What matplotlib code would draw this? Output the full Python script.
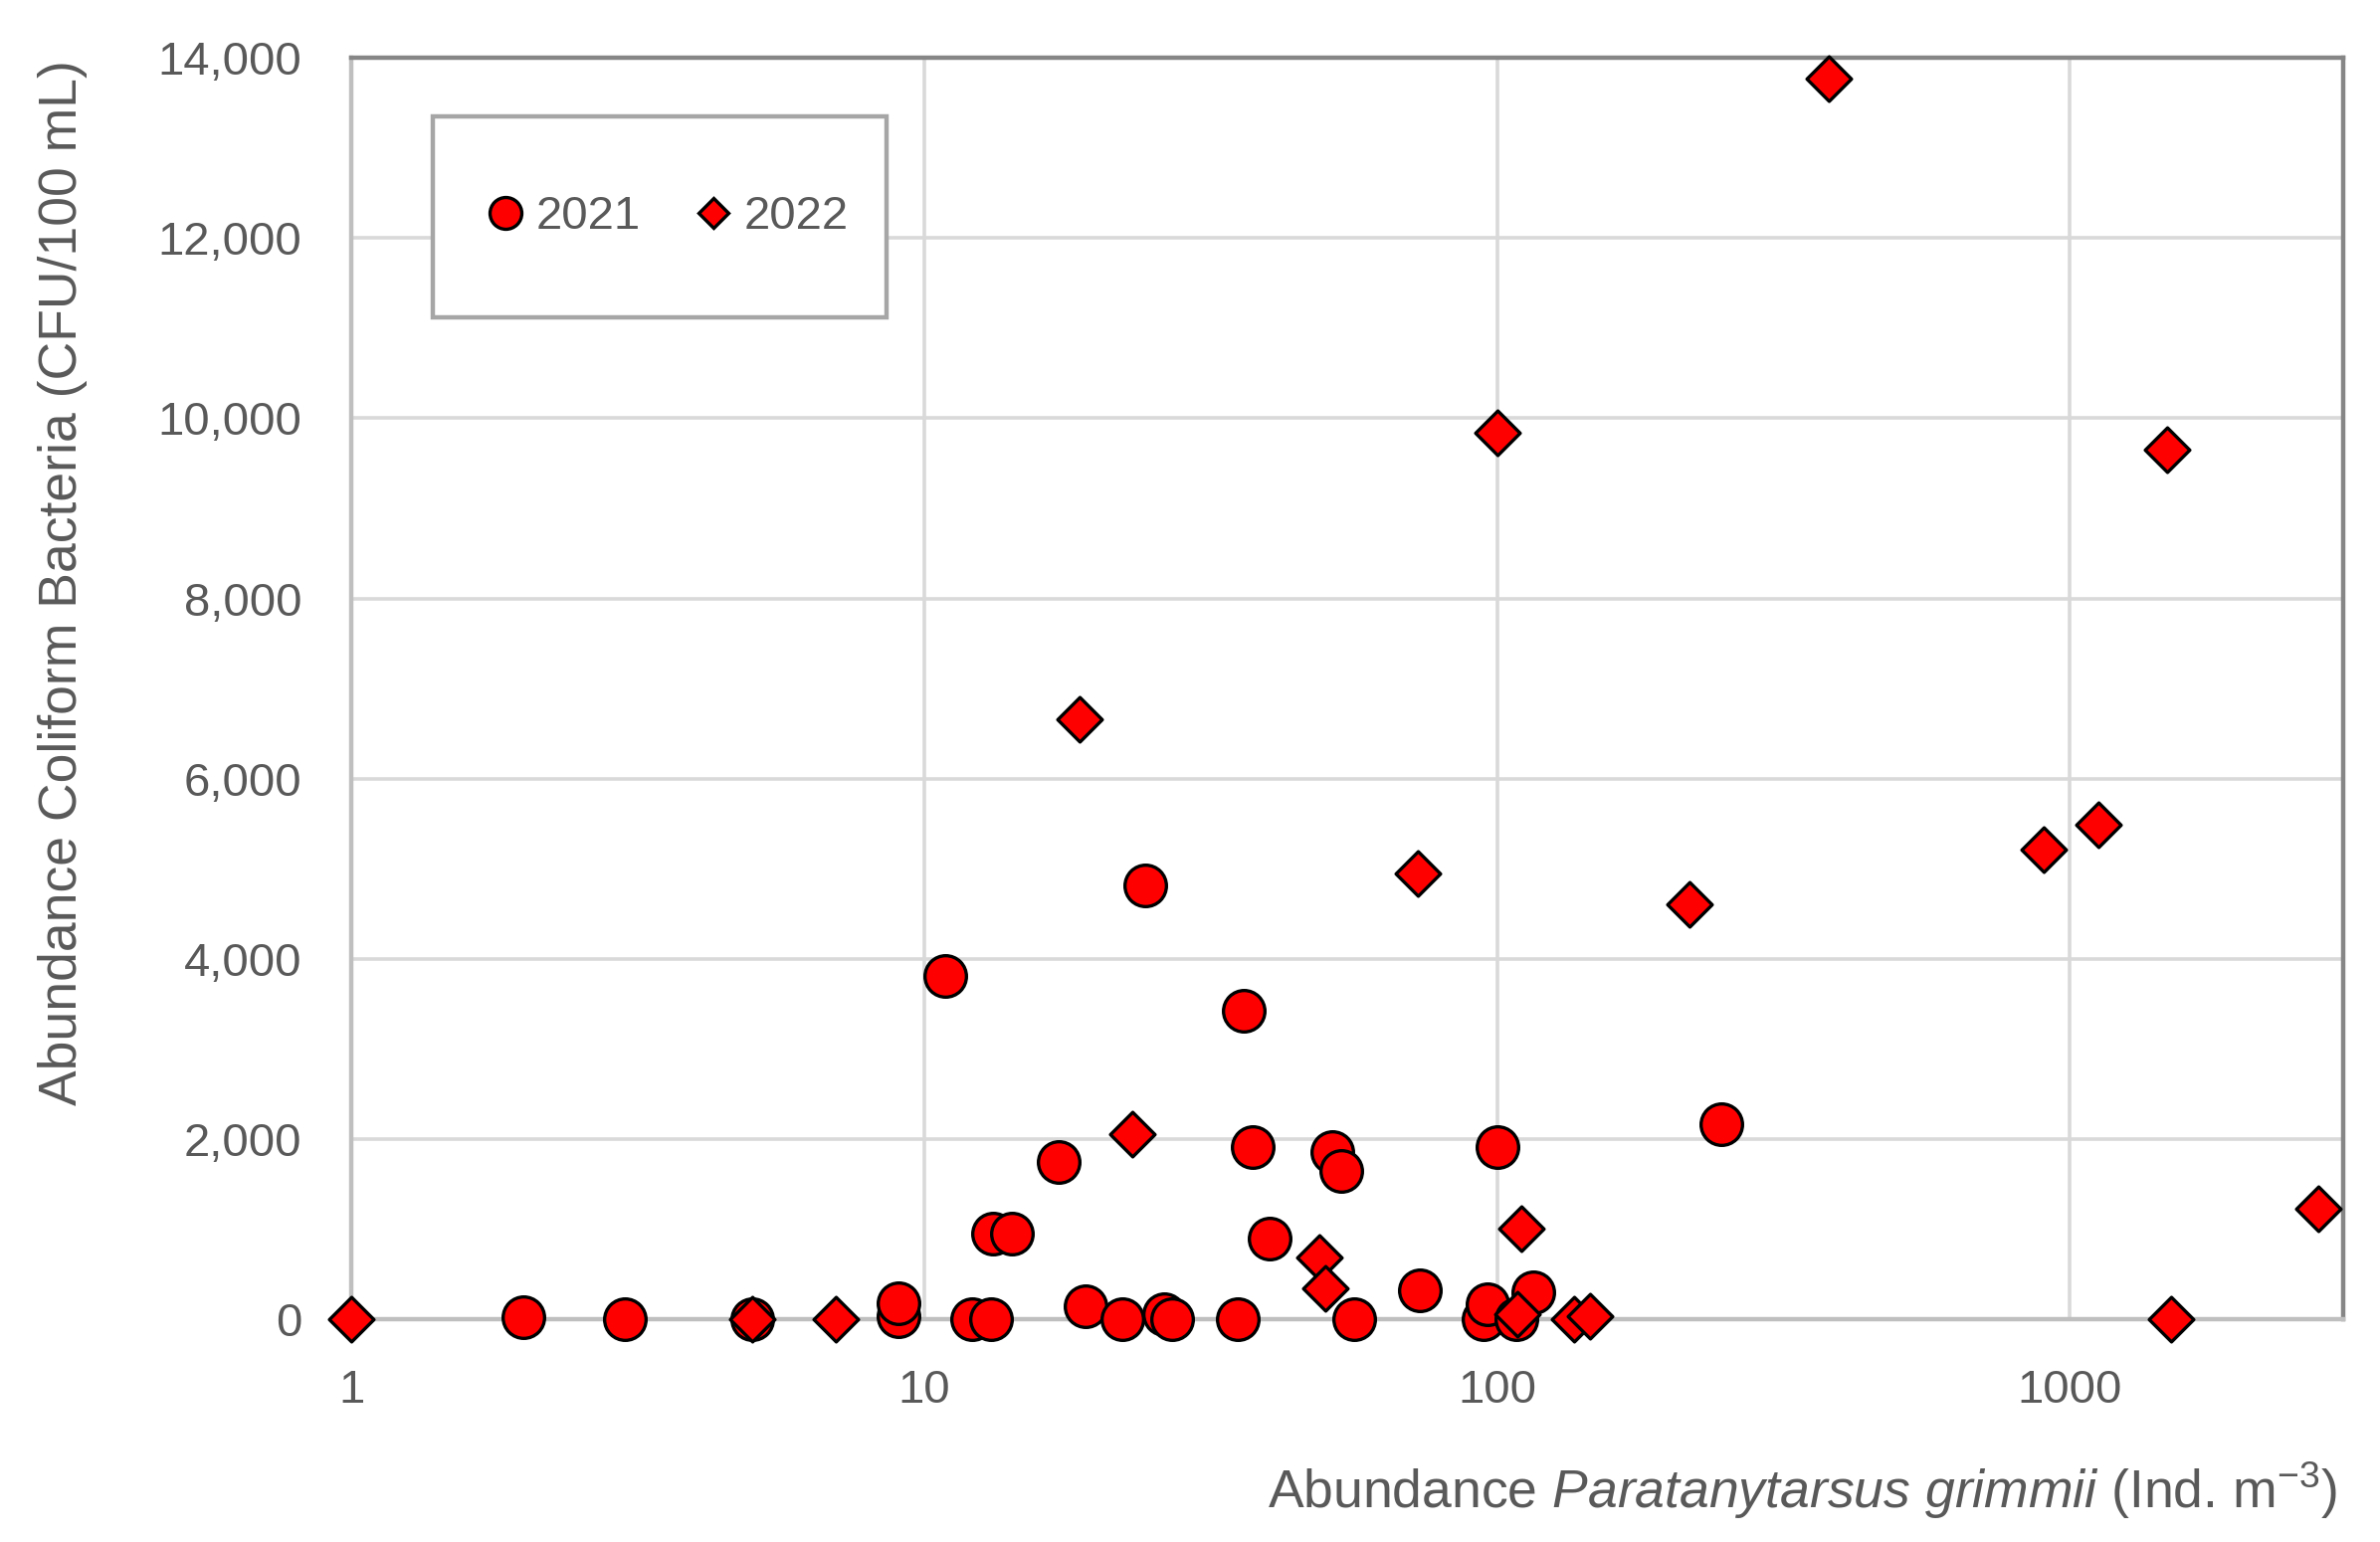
import matplotlib
matplotlib.use("Agg")
import matplotlib.pyplot as plt
from matplotlib.lines import Line2D
from matplotlib.patches import Rectangle
from matplotlib.ticker import FuncFormatter, FixedLocator

# ─── DONNÉES ──────────────────────────────────────────────────────────────────
x_2021 = [2, 3, 5, 9, 9, 10.9, 12.1, 13.1, 13.2, 14.2, 17.2, 19.1, 22.2, 24.3,
          26.2, 27.1, 35.2, 36.1, 37.4, 40.1, 51.5, 53.4, 56.4, 73.4, 94.6,
          96.4, 100, 108, 115.6, 246]
y_2021 = [20, 0, 0, 30, 180, 3810, 0, 0, 950, 950, 1740, 140, 0, 4820,
          60, 0, 0, 3420, 1910, 890, 1850, 1650, 0, 320, 0,
          170, 1910, 0, 300, 2160]

x_2022 = [1, 5, 7, 18.7, 23.1, 49, 50.2, 72.6, 100, 108.5, 110.3, 136.5,
          145.3, 217, 379, 901, 1122, 1480, 1500, 2715]
y_2022 = [0, 0, 0, 6660, 2050, 690, 340, 4950, 9840, 60, 1010, 0,
          30, 4600, 13770, 5210, 5490, 9650, 0, 1230]

x_ticks = [1, 10, 100, 1000]
y_ticks = [0, 2000, 4000, 6000, 8000, 10000, 12000, 14000]

TEXT = "#595959"
FONT = "Liberation Sans"

plt.rcParams['font.family'] = [FONT, 'DejaVu Sans']
plt.rcParams['mathtext.fontset'] = 'custom'
plt.rcParams['mathtext.rm'] = FONT
plt.rcParams['mathtext.it'] = FONT + ':italic'

# ─── FIGURE ───────────────────────────────────────────────────────────────────
fig = plt.figure(figsize=(23.92, 15.5), dpi=100)
ax = fig.add_axes([0.1476, 0.1445, 0.8370, 0.818])

ax.scatter(x_2021, y_2021, s=900, marker='o', facecolor='#ff0000',
           edgecolor='black', linewidth=2.4, clip_on=False, zorder=3)
ax.scatter(x_2022, y_2022, s=520, marker='D', facecolor='#ff0000',
           edgecolor='black', linewidth=2.4, clip_on=False, zorder=4)

ax.set_xscale('log')
ax.set_xlim(1, 3000)
ax.set_ylim(0, 14000)
ax.xaxis.set_major_locator(FixedLocator(x_ticks))
ax.xaxis.set_minor_locator(FixedLocator([]))
ax.xaxis.set_major_formatter(FuncFormatter(lambda v, p: f"{v:g}"))
ax.set_yticks(y_ticks)
ax.yaxis.set_major_formatter(FuncFormatter(lambda v, p: f"{v:,.0f}"))

ax.tick_params(axis='both', length=0, labelsize=34, colors=TEXT)
ax.tick_params(axis='y', pad=36)
ax.tick_params(axis='x', pad=36)

ax.grid(True, color='#d9d9d9', linewidth=2.6)
ax.set_axisbelow(True)

ax.spines['left'].set_color('#bfbfbf')
ax.spines['bottom'].set_color('#bfbfbf')
ax.spines['top'].set_color('#868686')
ax.spines['right'].set_color('#868686')
for sp in ax.spines.values():
    sp.set_linewidth(3.2)
ax.spines['bottom'].set_zorder(2.5)

ax.set_ylabel("Abundance Coliform Bacteria (CFU/100 mL)", fontsize=38.5,
              color=TEXT, va='center')
ax.yaxis.set_label_coords(-0.1449, 0.5844)
ax.set_xlabel(r"Abundance $\mathit{Paratanytarsus\ grimmii}$ (Ind. m$^{-3}$)",
              fontsize=38.5, color=TEXT, ha='right', va='center')
ax.xaxis.set_label_coords(0.997, -0.1356)

# ─── LÉGENDE ──────────────────────────────────────────────────────────────────
ax.add_patch(Rectangle((0.041, 0.794), 0.2278, 0.1595, transform=ax.transAxes,
                       facecolor='white', edgecolor='#a6a6a6', linewidth=3.2,
                       zorder=5))
handles = [
    Line2D([], [], linestyle='none', marker='o', markersize=23,
           markerfacecolor='#ff0000', markeredgecolor='black', markeredgewidth=2.4),
    Line2D([], [], linestyle='none', marker='D', markersize=15.5,
           markerfacecolor='#ff0000', markeredgecolor='black', markeredgewidth=2.4),
]
leg = ax.legend(handles, ["2021", "2022"], ncol=2, loc='center',
                bbox_to_anchor=(0.1593, 0.8738), fontsize=34, frameon=False,
                borderpad=0, handlelength=0.7, handletextpad=0.3,
                columnspacing=1.2, labelcolor=TEXT)
leg.set_zorder(6)

fig.savefig("out.png", dpi=100, facecolor='white')
